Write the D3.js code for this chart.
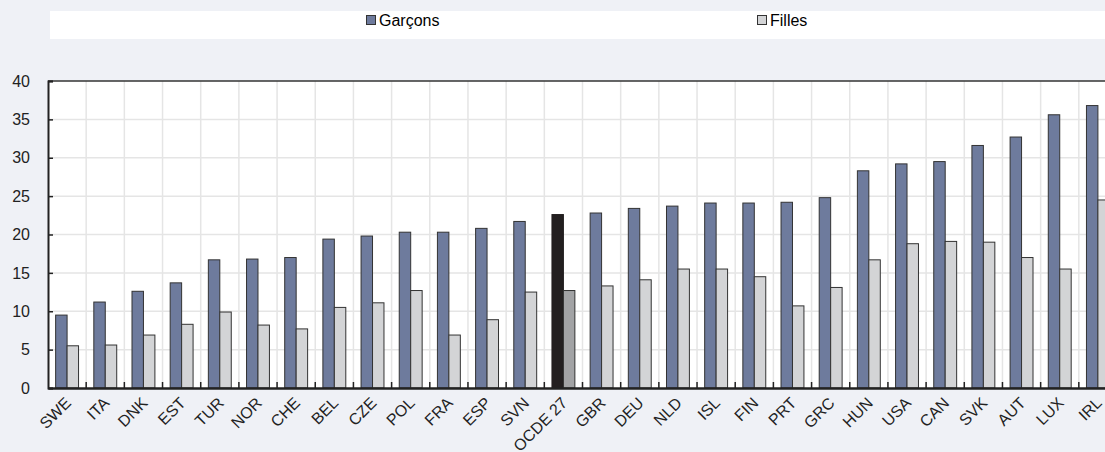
<!DOCTYPE html>
<html><head><meta charset="utf-8">
<script src="https://cdn.jsdelivr.net/npm/d3@7"></script>
<style>
html,body{margin:0;padding:0;background:#eff1f6;}
svg{display:block;font-family:"Liberation Sans",Arial,Helvetica,sans-serif;}
</style></head>
<body>
<svg id="chart" width="1105" height="452"></svg>
<script>
const categories = ["SWE","ITA","DNK","EST","TUR","NOR","CHE","BEL","CZE","POL","FRA","ESP","SVN","OCDE 27","GBR","DEU","NLD","ISL","FIN","PRT","GRC","HUN","USA","CAN","SVK","AUT","LUX","IRL"];
const boys  = [9.5,11.2,12.6,13.7,16.7,16.8,17.0,19.4,19.8,20.3,20.3,20.8,21.7,22.6,22.8,23.4,23.7,24.1,24.1,24.2,24.8,28.3,29.2,29.5,31.6,32.7,35.6,36.8];
const girls = [5.5,5.6,6.9,8.3,9.9,8.2,7.7,10.5,11.1,12.7,6.9,8.9,12.5,12.7,13.3,14.1,15.5,15.5,14.5,10.7,13.1,16.7,18.8,19.1,19.0,17.0,15.5,24.5];
const seriesNames = ["Garçons","Filles"];
const yTicks = [0,5,10,15,20,25,30,35,40];
const highlight = "OCDE 27";

const colors = {"Garçons":"#6e7b9d","Filles":"#d3d4d6"};
const hiColors = {"Garçons":"#231f20","Filles":"#a2a3a5"};

const svg = d3.select("#chart");
const pL = 48, pR = 1117, pT = 81, pB = 388;

// legend box
svg.append("rect").attr("x",50).attr("y",11).attr("width",1055).attr("height",28).attr("fill","#ffffff");
const legendX = [366, 757];
seriesNames.forEach((s,i)=>{
  svg.append("rect").attr("x",legendX[i]+0.5).attr("y",15.5).attr("width",9).attr("height",9)
    .attr("fill",colors[s]).attr("stroke","#333").attr("stroke-width",1);
  svg.append("text").attr("x",legendX[i]+13).attr("y",25.5).attr("font-size",16).attr("fill","#000").text(s);
});

// plot area
svg.append("rect").attr("x",pL).attr("y",pT).attr("width",pR-pL).attr("height",pB-pT).attr("fill","#ffffff");

const x0 = d3.scaleBand().domain(categories).range([pL,pR]).paddingInner(0).paddingOuter(0);
const bw = x0.bandwidth();
const x1 = d3.scaleBand().domain(seriesNames).range([bw*0.2, bw*0.8]).padding(0);
const y = d3.scaleLinear().domain([0,40]).range([pB,pT]);

// grid
const g = svg.append("g");
g.selectAll("line.h").data(yTicks.filter(t=>t>0 && t<40)).enter().append("line")
  .attr("x1",pL).attr("x2",pR).attr("y1",d=>y(d)).attr("y2",d=>y(d))
  .attr("stroke","#e5e5e5").attr("stroke-width",1.5);
g.selectAll("line.v").data(categories.slice(1)).enter().append("line")
  .attr("x1",d=>x0(d)).attr("x2",d=>x0(d)).attr("y1",pT).attr("y2",pB)
  .attr("stroke","#e5e5e5").attr("stroke-width",1.5);

// bars
const data = [];
categories.forEach((c,i)=>{
  data.push({cat:c, s:"Garçons", v:boys[i]});
  data.push({cat:c, s:"Filles", v:girls[i]});
});
svg.append("g").selectAll("rect").data(data).enter().append("rect")
  .attr("x",d=>x0(d.cat)+x1(d.s))
  .attr("width",x1.bandwidth())
  .attr("y",d=>y(d.v))
  .attr("height",d=>y(0)-y(d.v))
  .attr("fill",d=>d.cat===highlight?hiColors[d.s]:colors[d.s])
  .attr("stroke",d=>(d.cat===highlight && d.s==="Garçons")?"#231f20":"#333")
  .attr("stroke-width",1);

// top border
svg.append("line").attr("x1",pL).attr("x2",pR).attr("y1",pT).attr("y2",pT)
  .attr("stroke","#333").attr("stroke-width",1.5);

// y axis
const yAxis = d3.axisLeft(y).tickValues(yTicks).tickSize(-5).tickPadding(18).tickFormat(d3.format("d"));
const ya = svg.append("g").attr("transform",`translate(${pL},0)`).call(yAxis);
ya.select(".domain").attr("stroke","#222").attr("stroke-width",2);
ya.selectAll(".tick line").attr("stroke","#222").attr("stroke-width",1.5);
ya.selectAll(".tick text").attr("font-size",16).attr("fill","#222").attr("font-family","Liberation Sans, Arial, sans-serif");

// x axis
const xAxis = d3.axisBottom(x0).tickSize(0).tickFormat(d=>d);
const xa = svg.append("g").attr("transform",`translate(0,${pB})`).call(xAxis);
xa.select(".domain").attr("stroke","#222").attr("stroke-width",2.5);
xa.selectAll(".tick text")
  .attr("font-size",16).attr("fill","#222").attr("font-family","Liberation Sans, Arial, sans-serif")
  .attr("text-anchor","end")
  .attr("transform","translate(5,16) rotate(-45)")
  .attr("x",0).attr("y",0).attr("dy",0);
// boundary ticks
svg.append("g").selectAll("line").data(categories.slice(1)).enter().append("line")
  .attr("x1",d=>x0(d)).attr("x2",d=>x0(d)).attr("y1",pB-6).attr("y2",pB)
  .attr("stroke","#222").attr("stroke-width",1.5);
</script>
</body></html>
